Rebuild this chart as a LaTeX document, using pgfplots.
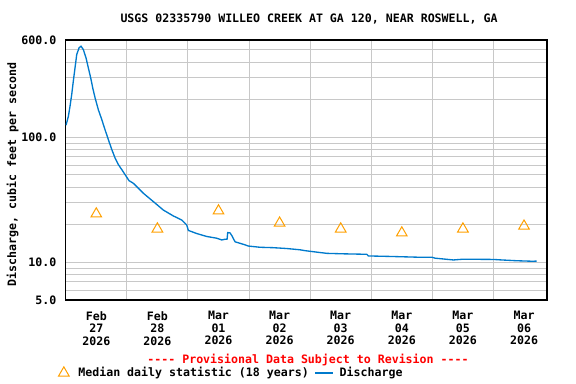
\documentclass[border=0pt]{standalone}
\usepackage{fontspec}
\setmonofont{DejaVu Sans Mono}
\usepackage{pgfplots}
\pgfplotsset{compat=1.18}
\definecolor{usgsblue}{RGB}{0,122,204}
\definecolor{medorange}{RGB}{255,160,0}
\definecolor{gridgray}{RGB}{200,200,200}
\newcommand{\cf}{\ttfamily\bfseries\fontsize{8.7}{9.4}\selectfont}

\pgfplotsset{
    medlegend/.style={legend image code/.code={\draw[##1] plot coordinates {(0pt,0pt)}; \path (8.5pt,0pt);}},
    qlegend/.style={legend image code/.code={\draw[##1] (0pt,0pt) -- (13.5pt,0pt); \path (15.7pt,0pt);}},
}

% median daily statistic, one value per day (plotted at noon)
\pgfplotstableread{
day median
0.5 24.4
1.5 18.5
2.5 25.8
3.5 20.6
4.5 18.5
5.5 17.2
6.5 18.5
7.5 19.5
}\mediantab

\begin{document}
\begin{tikzpicture}
\path[use as bounding box] (-49.3pt,-63pt) rectangle (382.7pt,225pt);
\begin{axis}[
    at={(0pt,0pt)}, anchor=south west,
    scale only axis,
    width=361pt, height=195pt,
    ymode=log,
    xmin=0, xmax=7.877,
    ymin=5, ymax=600,
    ytick={5,10,100,600},
    yticklabels={5.0,10.0,100.0,600.0},
    minor ytick={6,7,8,9,20,30,40,50,60,70,80,90,200,300,400,500},
    xtick={0.5,1.5,2.5,3.5,4.5,5.5,6.5,7.5},
    xticklabels={{Feb\\27\\2026},{Feb\\28\\2026},{Mar\\01\\2026},{Mar\\02\\2026},
                 {Mar\\03\\2026},{Mar\\04\\2026},{Mar\\05\\2026},{Mar\\06\\2026}},
    minor xtick={1,2,3,4,5,6,7},
    xminorgrids=true, ymajorgrids=true, yminorgrids=true,
    major tick length=0pt, minor tick length=0pt,
    grid style={gridgray, line width=0.75pt},
    axis line style={line width=1.1pt},
    tick label style={font=\cf},
    xticklabel style={align=center, yshift=-5pt},
    yticklabel style={xshift=-3.5pt},
    ylabel={Discharge, cubic feet per second},
    ylabel style={font=\cf, at={(axis description cs:-0.1105,0.4826)}, anchor=center},
    legend columns=2,
    legend style={at={(axis description cs:-0.0155,-0.2808)}, anchor=west,
        draw=none, fill=none, font=\cf, inner sep=0pt,
        /tikz/every even column/.append style={column sep=2.5pt}},
]

\addplot[only marks, mark=triangle, mark size=4.6pt, medorange, line width=0.75pt, medlegend]
    table[x=day, y=median] {\mediantab};
\addlegendentry{Median daily statistic (18 years)}

\addplot[usgsblue, line width=1pt, mark=none, qlegend]
    coordinates {
(0.005,125) (0.043,147) (0.070,177) (0.098,220) (0.124,281) (0.152,359)
(0.180,459) (0.218,519) (0.250,535) (0.288,503) (0.332,432) (0.370,359)
(0.409,298) (0.442,248) (0.480,207) (0.534,166) (0.589,139) (0.643,115)
(0.697,96) (0.753,80) (0.807,68.4) (0.861,60.5) (0.917,55.2) (0.971,50.3)
(1.036,45) (1.106,42.9) (1.270,35.7) (1.434,30.6) (1.597,26.2) (1.761,23.5)
(1.899,21.8) (1.980,19.9) (2.007,18.0) (2.144,17.0) (2.308,16.1) (2.471,15.6)
(2.553,15.1) (2.607,15.3) (2.640,15.3) (2.651,17.3) (2.689,17.2) (2.717,16.4)
(2.771,14.6) (2.853,14.2) (2.935,13.8) (2.989,13.5) (3.180,13.2) (3.398,13.1)
(3.617,12.9) (3.835,12.6) (3.917,12.4) (4.272,11.8) (4.543,11.7) (4.926,11.6)
(4.953,11.25) (5.308,11.15) (5.745,11.0) (5.990,11.0) (6.044,10.8) (6.344,10.45)
(6.507,10.6) (6.998,10.55) (7.136,10.45) (7.381,10.3) (7.653,10.2) (7.708,10.25)
};
\addlegendentry{Discharge}

\end{axis}
\node[font=\cf] at (182.5pt,210.75pt) {USGS 02335790 WILLEO CREEK AT GA 120, NEAR ROSWELL, GA};
\node[font=\cf, text=red] at (181.7pt,-45pt) {---- Provisional Data Subject to Revision ----};
\end{tikzpicture}
\end{document}
